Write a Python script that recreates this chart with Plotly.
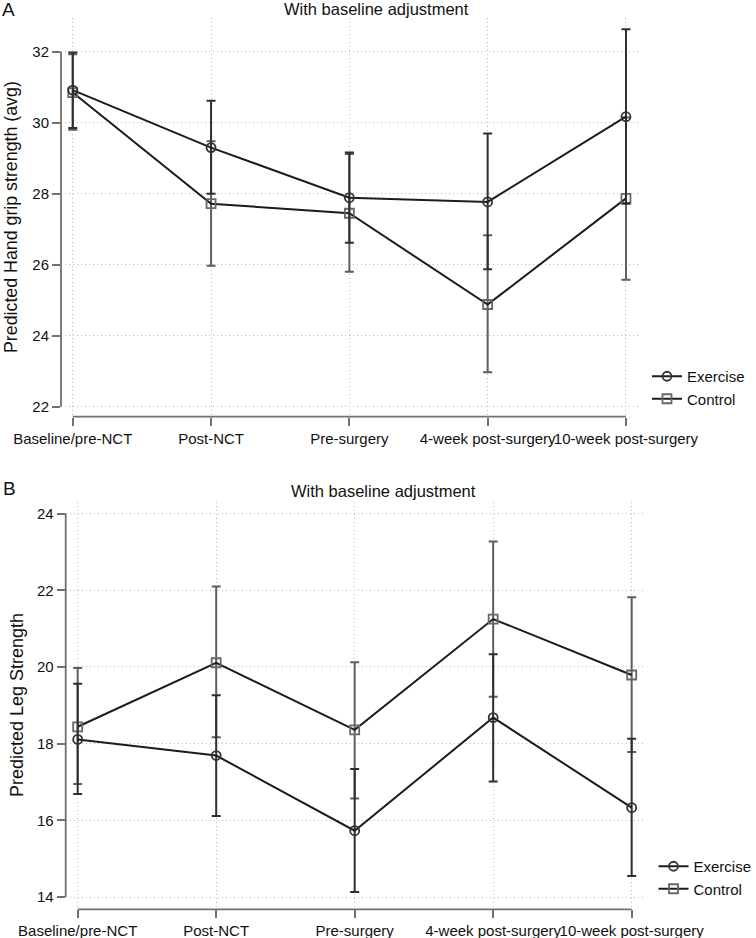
import plotly.graph_objects as go

timepoints = ["Baseline/pre-NCT", "Post-NCT", "Pre-surgery", "4-week post-surgery", "10-week post-surgery"]

# Panel A: Predicted hand grip strength (avg)
grip_ex = [30.92, 29.30, 27.89, 27.77, 30.17]
grip_ex_lo = [29.85, 28.00, 26.62, 25.87, 27.72]
grip_ex_hi = [31.98, 30.62, 29.16, 29.70, 32.63]
grip_ct = [30.85, 27.72, 27.45, 24.88, 27.87]
grip_ct_lo = [29.80, 25.97, 25.80, 22.97, 25.58]
grip_ct_hi = [31.93, 29.48, 29.12, 26.83, 30.15]
grip_ticks = [22, 24, 26, 28, 30, 32]

# Panel B: Predicted leg strength
leg_ex = [18.11, 17.69, 15.73, 18.68, 16.33]
leg_ex_lo = [16.69, 16.11, 14.13, 17.01, 14.55]
leg_ex_hi = [19.56, 19.26, 17.34, 20.33, 18.13]
leg_ct = [18.44, 20.11, 18.36, 21.25, 19.79]
leg_ct_lo = [16.95, 18.17, 16.57, 19.22, 17.78]
leg_ct_hi = [19.97, 22.10, 20.12, 23.27, 21.82]
leg_ticks = [14, 16, 18, 20, 22, 24]

W, H = 756, 938
FONT = "Liberation Sans, Arial, Helvetica, sans-serif"
TXT = "#111111"
AXC = "#707070"
GRIDC = "#b8b8b8"
EX_C = "#1c1c1c"
EX_ERR = "#2e2e2e"
CT_ERR = "#5e5e5e"
CT_MK = "#666666"

xs = list(range(len(timepoints)))


def px_x(p):
    return p / W


def px_y(p):
    return 1 - p / H


def err(vals, lo, hi):
    return dict(type="data", symmetric=False,
                array=[h - v for v, h in zip(vals, hi)],
                arrayminus=[v - l for v, l in zip(vals, lo)],
                thickness=2, width=4.5)


fig = go.Figure()

panels = [
    ("x", "y", "legend", grip_ex, grip_ex_lo, grip_ex_hi, grip_ct, grip_ct_lo, grip_ct_hi),
    ("x2", "y2", "legend2", leg_ex, leg_ex_lo, leg_ex_hi, leg_ct, leg_ct_lo, leg_ct_hi),
]

for xa, ya, lg, ev, el, eh, cv, cl, ch in panels:
    e_ct = err(cv, cl, ch)
    e_ct["color"] = CT_ERR
    fig.add_trace(go.Scatter(
        x=xs, y=cv, name="Control", mode="lines+markers", xaxis=xa, yaxis=ya, legend=lg,
        line=dict(color=EX_C, width=2),
        marker=dict(symbol="square-open", size=9, color=CT_MK, line=dict(width=1.8, color=CT_MK)),
        error_y=e_ct, showlegend=True, legendrank=2))
    e_ex = err(ev, el, eh)
    e_ex["color"] = EX_ERR
    fig.add_trace(go.Scatter(
        x=xs, y=ev, name="Exercise", mode="lines+markers", xaxis=xa, yaxis=ya, legend=lg,
        line=dict(color=EX_C, width=2),
        marker=dict(symbol="circle-open", size=9, color="#333333", line=dict(width=1.8, color="#333333")),
        error_y=e_ex, showlegend=True, legendrank=1))

common_x = dict(
    tickmode="array", tickvals=xs, ticktext=timepoints, tickangle=0,
    ticks="outside", ticklen=8, tickwidth=1.5, tickcolor=AXC,
    showgrid=True, gridcolor=GRIDC, griddash="1px,3px", gridwidth=1,
    zeroline=False, showline=False, automargin=False,
    tickfont=dict(family=FONT, size=15, color=TXT),
)
common_y = dict(
    tickmode="array", ticks="outside", ticklen=8, tickwidth=1.5, tickcolor=AXC,
    showgrid=True, gridcolor=GRIDC, griddash="1px,3px", gridwidth=1,
    zeroline=False, showline=False, automargin=False,
    tickfont=dict(family=FONT, size=15, color=TXT),
)

fig.update_layout(
    width=W, height=H,
    margin=dict(l=0, r=0, t=0, b=0, autoexpand=False),
    paper_bgcolor="white", plot_bgcolor="white",
    font=dict(family=FONT, color=TXT),
    xaxis=dict(common_x, domain=[px_x(61), px_x(638)], range=[-0.085, 4.087], anchor="y"),
    yaxis=dict(common_y, domain=[px_y(416.7), px_y(18)], range=[21.72, 32.95],
               tickvals=grip_ticks, anchor="x"),
    xaxis2=dict(common_x, domain=[px_x(65.7), px_x(643.3)], range=[-0.0866, 4.084], anchor="y2"),
    yaxis2=dict(common_y, domain=[px_y(909.3), px_y(501.7)], range=[13.68, 24.31],
                tickvals=leg_ticks, anchor="x2"),
    legend=dict(x=px_x(647), y=px_y(360), xanchor="left", yanchor="top",
                font=dict(family=FONT, size=15, color=TXT), bgcolor="rgba(0,0,0,0)",
                itemwidth=30, tracegroupgap=0),
    legend2=dict(x=px_x(653.5), y=px_y(850), xanchor="left", yanchor="top",
                 font=dict(family=FONT, size=15, color=TXT), bgcolor="rgba(0,0,0,0)",
                 itemwidth=30, tracegroupgap=0),
    showlegend=True,
)

# Stata-style axis lines spanning only the labelled range
shapes = []
for xa, ya, ticks in [("x", "y", grip_ticks), ("x2", "y2", leg_ticks)]:
    shapes.append(dict(type="line", xref=f"{xa} domain", yref=ya, x0=0, x1=0,
                       y0=min(ticks), y1=max(ticks), line=dict(color=AXC, width=1.8)))
    shapes.append(dict(type="line", xref=xa, yref=f"{ya} domain", x0=min(xs), x1=max(xs),
                       y0=0, y1=0, line=dict(color=AXC, width=1.8)))
fig.update_layout(shapes=shapes)

ann = []
ann.append(dict(text="A", x=px_x(0), y=px_y(9.5), xref="paper", yref="paper",
                xanchor="left", yanchor="middle", showarrow=False,
                font=dict(family=FONT, size=19, color=TXT)))
ann.append(dict(text="B", x=px_x(1), y=px_y(488), xref="paper", yref="paper",
                xanchor="left", yanchor="middle", showarrow=False,
                font=dict(family=FONT, size=19, color=TXT)))
ann.append(dict(text="With baseline adjustment", x=px_x(376.5), y=px_y(8.5), xref="paper", yref="paper",
                xanchor="center", yanchor="middle", showarrow=False,
                font=dict(family=FONT, size=16.5, color=TXT)))
ann.append(dict(text="With baseline adjustment", x=px_x(383), y=px_y(490.5), xref="paper", yref="paper",
                xanchor="center", yanchor="middle", showarrow=False,
                font=dict(family=FONT, size=16.5, color=TXT)))
ann.append(dict(text="Predicted Hand grip strength (avg)", x=px_x(11.5), y=px_y(217.5),
                xref="paper", yref="paper", xanchor="center", yanchor="middle",
                textangle=-90, showarrow=False, font=dict(family=FONT, size=17.8, color=TXT)))
ann.append(dict(text="Predicted Leg Strength", x=px_x(16.5), y=px_y(705.5),
                xref="paper", yref="paper", xanchor="center", yanchor="middle",
                textangle=-90, showarrow=False, font=dict(family=FONT, size=18, color=TXT)))
fig.update_layout(annotations=ann)

fig.write_html("out.html",
               config={"displayModeBar": False},
               post_script="document.body.style.margin='0';document.body.style.padding='0';"
                           "document.documentElement.style.overflow='hidden';")
